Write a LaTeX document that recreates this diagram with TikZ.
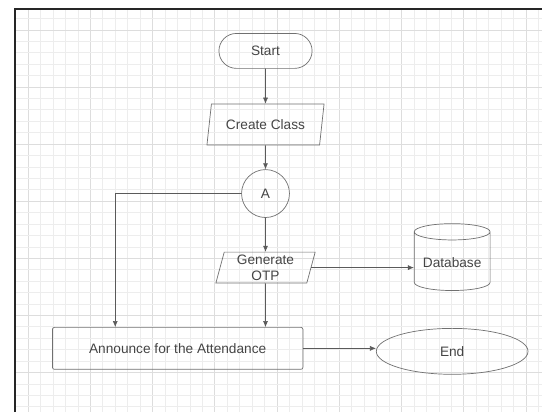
\documentclass[tikz,border=0pt]{standalone}
\usepackage{fontspec}
\setmainfont{Liberation Sans}
\usetikzlibrary{positioning,shapes.geometric,shapes.misc,arrows.meta}

\definecolor{shapeline}{HTML}{707070}
\definecolor{flowline}{HTML}{5A5A5A}
\definecolor{labeltext}{HTML}{454545}
\definecolor{gridminor}{HTML}{EDEDED}
\definecolor{gridmajor}{HTML}{DDDDDD}

\tikzset{
  base/.style={draw=shapeline, line width=0.7pt, text=labeltext,
    font=\fontsize{13.7}{16.5}\selectfont, align=center},
  terminal/.style={base, rounded rectangle, minimum width=100pt, minimum height=35pt},
  io/.style={base, trapezium, trapezium left angle=78, trapezium right angle=102,
    trapezium stretches=true},
  connector/.style={base, circle, minimum size=48pt, inner sep=0pt},
  process/.style={base, rectangle, rounded corners=2pt, minimum width=251pt, minimum height=42pt},
  storage/.style={base, cylinder, shape border rotate=90, aspect=0.25,
    minimum width=76pt, minimum height=67pt},
  stopshape/.style={base, ellipse, minimum width=152pt, minimum height=46pt},
  flow/.style={draw=flowline, line width=0.6pt, -{Latex[length=6pt,width=5pt]}},
}

\begin{document}
\begin{tikzpicture}[x=1pt,y=-1pt]
  % background and grid paper
  \fill[white] (0,0) rectangle (543,413);
  \foreach \k in {0,...,41}{
    \pgfmathsetmacro{\gridx}{28.3+12.47*\k}
    \pgfmathtruncatemacro{\gridm}{mod(\k,5)}
    \ifnum\gridm=0 \def\gridc{gridmajor}\else\def\gridc{gridminor}\fi
    \draw[\gridc, line width=1pt] (\gridx,9) -- (\gridx,413);
  }
  \foreach \k in {-6,...,28}{
    \pgfmathsetmacro{\gridy}{87.3+11.44*\k}
    \pgfmathtruncatemacro{\gridm}{mod(\k+10,5)}
    \ifnum\gridm=0 \def\gridc{gridmajor}\else\def\gridc{gridminor}\fi
    \draw[\gridc, line width=1pt] (15,\gridy) -- (543,\gridy);
  }
  \draw[black!85, line width=2pt] (15,413) -- (15,9) -- (543,9);

  % flowchart
  \node[terminal] (start) at (266,51) {Start};
  \node[io, below=35pt of start, minimum width=118pt, minimum height=41pt] (create) {Create Class};
  \node[connector, below=24pt of create] (a) {A};
  \node[io, below=34pt of a, minimum width=100pt, minimum height=31pt, inner sep=1pt] (otp) {Generate\\OTP};
  \node[process] (announce) at (178,349) {Announce for the Attendance};
  \node[storage] (db) at (453,263.5) {\raisebox{-5pt}{Database}};
  \node[stopshape] (finish) at (453,352) {End};

  \draw[flow] (start) -- (create);
  \draw[flow] (create) -- (a);
  \draw[flow] (a) -- (otp);
  \draw[flow] (otp) -- (otp |- announce.north);
  \draw[flow] (a.west) -| ([xshift=63.3pt]announce.north west);
  \draw[flow] (otp.east) -- (otp.east -| db.west);
  \draw[flow] (announce.east) -- (announce.east -| finish.west);
\end{tikzpicture}
\end{document}
